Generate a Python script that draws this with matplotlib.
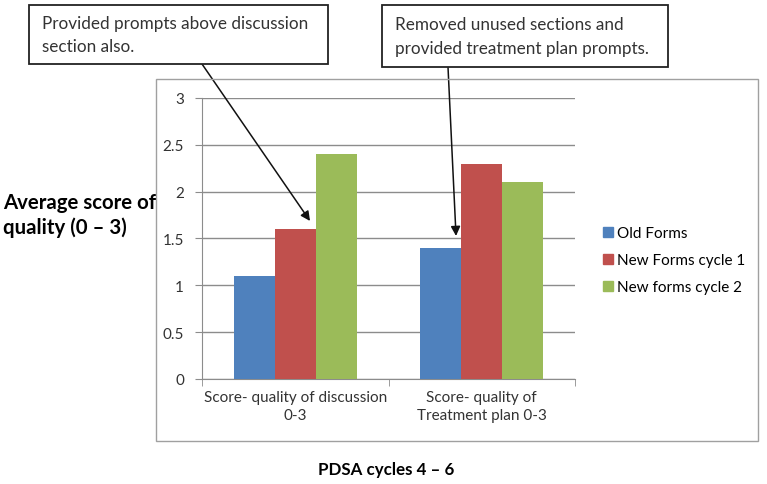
import matplotlib.pyplot as plt
import matplotlib.patches as mpatches
import numpy as np

plt.rcParams['font.family'] = ['Lato', 'DejaVu Sans']

categories = ['Score- quality of discussion\n0-3', 'Score- quality of\nTreatment plan 0-3']
series_names = ['Old Forms', 'New Forms cycle 1', 'New forms cycle 2']
old_forms = [1.1, 1.4]
new_cycle1 = [1.6, 2.3]
new_cycle2 = [2.4, 2.1]
colors = ['#4F81BD', '#C0504D', '#9BBB59']

fig = plt.figure(figsize=(7.67, 4.85), dpi=100)

# outer chart frame
frame = mpatches.Rectangle((0.2034, 0.0887), 0.785, 0.746, transform=fig.transFigure,
                           fill=False, edgecolor='#a0a0a0', lw=1.0)
fig.patches.append(frame)

ax = fig.add_axes([0.2634, 0.2165, 0.4863, 0.5794])
x = np.arange(len(categories))
w = 0.22
for i, (vals, name) in enumerate(zip([old_forms, new_cycle1, new_cycle2], series_names)):
    ax.bar(x + (i - 1) * w, vals, w, color=colors[i], label=name, zorder=3)

ax.set_xlim(-0.5, 1.5)
ax.set_ylim(0, 3)
ax.set_yticks(np.arange(0, 3.01, 0.5))
ax.set_yticklabels(['0', '0.5', '1', '1.5', '2', '2.5', '3'])
ax.yaxis.grid(True, color='#8c8c8c', lw=1.0, zorder=0)
ax.set_xticks(x)
ax.set_xticklabels(categories, fontsize=11, color='#333333', linespacing=1.35)
ax.tick_params(axis='x', length=0, pad=8)
ax.set_xticks([-0.5, 0.5, 1.5], minor=True)
ax.tick_params(axis='x', which='minor', length=5, color='#8c8c8c')
ax.tick_params(axis='y', length=5, color='#8c8c8c', labelsize=11, labelcolor='#333333', pad=8)
for s in ['top', 'right']:
    ax.spines[s].set_visible(False)
for s in ['left', 'bottom']:
    ax.spines[s].set_color('#8c8c8c')

# legend
handles = [mpatches.Patch(color=c) for c in colors]
fig.legend(handles, series_names, loc='upper left', bbox_to_anchor=(0.768, 0.56),
           frameon=False, fontsize=11, handlelength=0.65, handleheight=0.65,
           handletextpad=0.3, labelspacing=0.85)

# axis titles
fig.text(0.004, 0.555, 'Average score of\nquality (0 \u2013 3)', fontsize=14.7, fontweight='bold',
         va='center', ha='left', linespacing=1.25)
fig.text(0.503, 0.031, 'PDSA cycles 4 \u2013 6', fontsize=12.2, fontweight='bold',
         va='center', ha='center')

# annotation boxes
boxes = [
    ((29, 6, 328, 65), 'Provided prompts above discussion\nsection also.', (202, 65), (0.079, 1.687)),
    ((382, 6, 668, 68), 'Removed unused sections and\nprovided treatment plan prompts.', (448, 68), (0.862, 1.527)),
]
W, H = 767, 485
for (x0, y0, x1, y1), txt, start, tip in boxes:
    r = mpatches.Rectangle((x0 / W, 1 - y1 / H), (x1 - x0) / W, (y1 - y0) / H,
                           transform=fig.transFigure, fill=True, facecolor='white',
                           edgecolor='#222222', lw=1.3)
    fig.patches.append(r)
    fig.text((x0 + 13) / W, 1 - (y0 + y1) / 2 / H, txt, fontsize=12.3, color='#333333',
             va='center', ha='left', linespacing=1.55)
    ax.annotate('', xy=tip, xycoords='data',
                xytext=(start[0] / W, 1 - start[1] / H), textcoords='figure fraction',
                arrowprops=dict(arrowstyle='-|>', color='#111111', lw=1.1,
                                mutation_scale=14, shrinkA=0, shrinkB=0),
                annotation_clip=False, zorder=5)

fig.savefig('out.png', dpi=100)
